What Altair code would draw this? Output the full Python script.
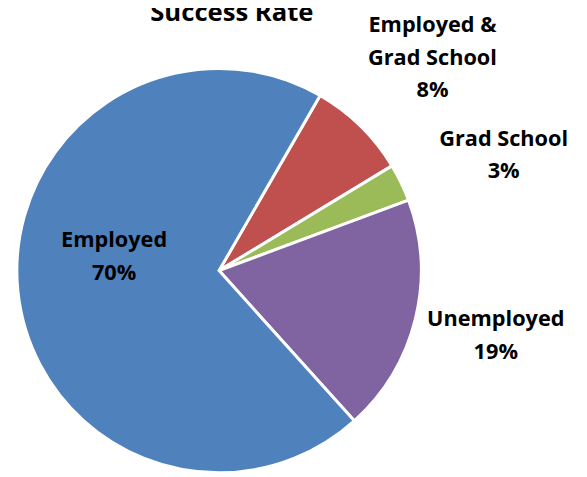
import math
import altair as alt
import pandas as pd

title_text = ["Success Rate"]
categories = ["Employed & Grad School", "Grad School", "Unemployed", "Employed"]
values = [8, 3, 19, 70]
colors = ["#C0504D", "#9BBB59", "#8064A2", "#4F81BD"]

df = pd.DataFrame({"cat": categories, "value": values, "order": list(range(len(categories)))})

start = math.radians(30)
theta_scale = alt.Scale(domain=[0, 100], range=[start, start + 2 * math.pi])
theta = alt.Theta("value:Q", stack=True, scale=theta_scale)

CX, CY = 214, 263
FONT = "Open Sans"

base = alt.Chart(df).encode(
    theta=theta,
    order=alt.Order("order:Q"),
)

pie = base.mark_arc(radius=205, stroke="white", strokeWidth=3).encode(
    x=alt.value(CX),
    y=alt.value(CY),
    color=alt.Color("cat:N", scale=alt.Scale(domain=categories, range=colors), legend=None),
)

label_expr = "replace(datum.cat, ' & ', ' &\\n') + '\\n' + datum.value + '%'"


def label_layer(cat, radius, dx, dy):
    return (
        base.transform_calculate(
            lab=f"datum.cat == '{cat}' ? {label_expr} : ''"
        )
        .mark_text(
            radius=radius, dx=dx, dy=dy, font=FONT, fontWeight="bold", fontSize=22,
            lineBreak="\n", lineHeight=33, color="black", align="center", baseline="middle",
        )
        .encode(x=alt.value(CX), y=alt.value(CY), text="lab:N")
    )


title = (
    alt.Chart(pd.DataFrame({"t": title_text}))
    .mark_text(font=FONT, fontSize=26, fontWeight="bold", color="black",
               align="center", baseline="alphabetic")
    .encode(x=alt.value(227), y=alt.value(10), text="t:N")
)

layers = [
    pie,
    label_layer("Employed", 110, 3, -42),
    label_layer("Employed & Grad School", 305, 3, -31),
    label_layer("Grad School", 305, 14, -1),
    label_layer("Unemployed", 290, -1, -20),
    title,
]

chart = alt.layer(*layers).properties(
    width=579,
    height=469,
    padding=0,
    autosize=alt.AutoSizeParams(type="none"),
).configure_view(stroke=None)

chart.save("out.html", embed_options={"renderer": "svg", "actions": False})
